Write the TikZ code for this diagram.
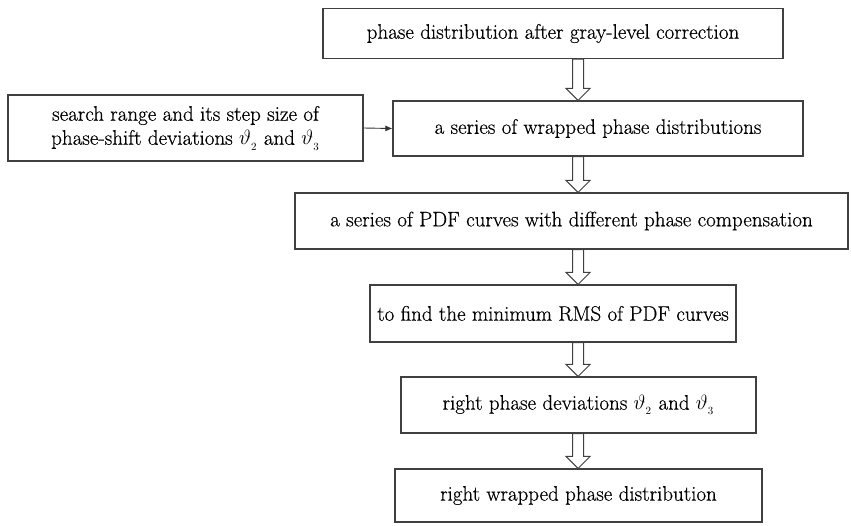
\documentclass[tikz,border=0pt]{standalone}
\usepackage{fontspec}
\setmainfont{Latin Modern Roman}
\newfontfamily\heavyrm[FakeBold=0.5]{Latin Modern Roman}
\usetikzlibrary{arrows.meta,calc}
\begin{document}
\begin{tikzpicture}[x=1pt,y=-1pt,
  box/.style={draw=black!75,line width=1.1pt,inner sep=0pt,align=center,font=\heavyrm\fontsize{21}{24}\selectfont},
  dbl/.style={draw=black!75,line width=1pt,fill=white,line join=miter}]
\useasboundingbox (0,0) rectangle (851,525);
\node[box,minimum width=460,minimum height=50] (a) at (553,33.5) {phase distribution after gray-level correction};
\node[box,minimum width=355,minimum height=66] (s) at (185.5,128) {search range and its step size of\\[0pt] phase-shift deviations $\vartheta_{_2}$ and $\vartheta_{_3}$};
\node[box,minimum width=410,minimum height=55] (b) at (598,128.5) {a series of wrapped phase distributions};
\node[box,minimum width=553,minimum height=56] (c) at (571.5,221) {a series of PDF curves with different phase compensation};
\node[box,minimum width=366,minimum height=57] (d) at (553,313.5) {to find the minimum RMS of PDF curves};
\node[box,minimum width=355,minimum height=56] (e) at (578.5,405) {right phase deviations $\vartheta_{_2}$ and $\vartheta_{_3}$};
\node[box,minimum width=367,minimum height=53] (f) at (578.5,495.5) {right wrapped phase distribution};
\draw[line width=0.9pt,draw=black!80,-{Latex[length=7pt,width=6pt]}] (s.east) -- (b.west);
\foreach \u/\v in {a/b,b/c,c/d,d/e,e/f}{
  \path let \p1=(\u.south), \p2=(\v.north) in
    [dbl] (572.5,\y1) -- (583.5,\y1) -- (583.5,\y2+12) -- (590,\y2+12) -- (578,\y2) -- (566,\y2+12) -- (572.5,\y2+12) -- cycle;
}
\end{tikzpicture}
\end{document}
